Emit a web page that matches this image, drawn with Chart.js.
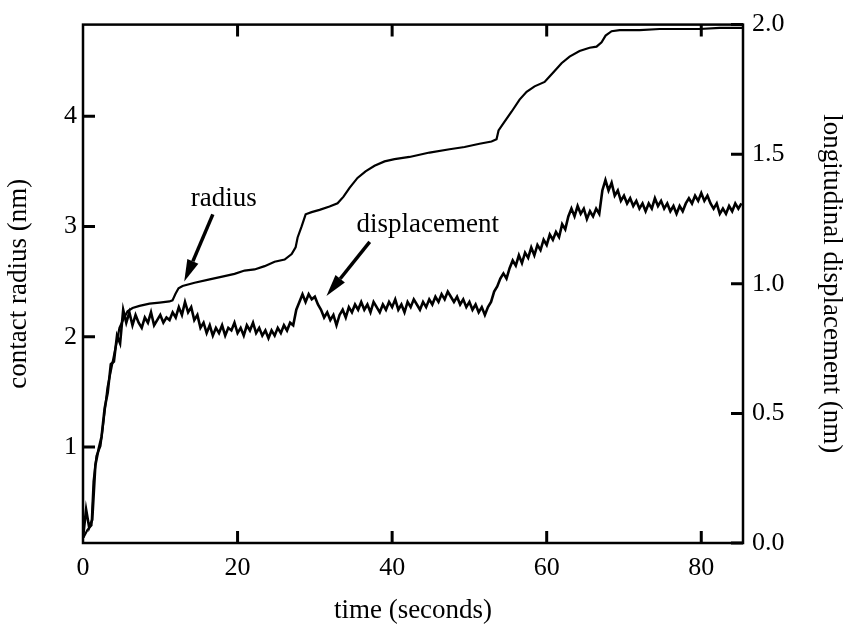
<!DOCTYPE html>
<html><head><meta charset="utf-8">
<script src="https://cdn.jsdelivr.net/npm/chart.js@4.4.1/dist/chart.umd.min.js"></script>
<style>html,body{margin:0;padding:0;background:#fff;}canvas{display:block;}</style>
</head><body>
<canvas id="c" width="845" height="625"></canvas>
<script>
// ---- data ----
const radiusTime = [0.06,0.58,1.10,1.36,1.75,2.26,2.65,3.17,3.69,4.21,4.72,5.24,5.76,6.41,7.31,8.61,9.90,11.19,11.58,11.97,12.36,12.88,14.44,16.39,18.31,19.61,20.91,22.20,23.50,24.79,26.09,27.00,27.51,27.77,28.29,28.81,29.58,30.61,31.90,32.94,33.71,34.49,35.52,36.56,37.72,39.02,40.31,42.25,44.84,47.43,49.37,51.31,52.86,53.51,53.77,54.55,55.45,56.49,57.40,58.43,59.73,60.37,61.02,61.92,62.96,64.25,65.55,66.45,67.10,67.62,68.40,69.43,72.02,74.61,77.20,79.79,82.38,85.35];
const radiusValues = [0.18,0.25,0.29,0.69,0.92,1.01,1.23,1.54,1.72,1.90,2.08,2.16,2.23,2.26,2.28,2.30,2.31,2.32,2.33,2.39,2.44,2.46,2.49,2.52,2.55,2.57,2.60,2.61,2.64,2.68,2.70,2.75,2.81,2.90,3.00,3.11,3.13,3.15,3.18,3.21,3.27,3.35,3.44,3.50,3.55,3.59,3.61,3.63,3.67,3.70,3.72,3.75,3.77,3.79,3.87,3.95,4.04,4.15,4.22,4.27,4.31,4.36,4.41,4.48,4.54,4.59,4.62,4.63,4.67,4.73,4.77,4.78,4.78,4.79,4.79,4.79,4.80,4.80];

const dispTime = [
0,0.4,0.8,1.2,1.6,2.0,2.4,2.8,3.2,3.6,
4.0,4.4,4.8,5.2,5.6,6.0,6.4,6.8,7.2,7.6,
8.0,8.4,8.8,9.2,9.6,10.0,10.4,10.8,11.2,11.6,
12.0,12.4,12.8,13.2,13.6,14.0,14.4,14.8,15.2,15.6,
16.0,16.4,16.8,17.2,17.6,18.0,18.4,18.8,19.2,19.6,
20.0,20.4,20.8,21.2,21.6,22.0,22.4,22.8,23.2,23.6,
24.0,24.4,24.8,25.2,25.6,26.0,26.4,26.8,27.2,27.6,
28.0,28.4,28.8,29.2,29.6,30.0,30.4,30.8,31.2,31.6,
32.0,32.4,32.8,33.2,33.6,34.0,34.4,34.8,35.2,35.6,
36.0,36.4,36.8,37.2,37.6,38.0,38.4,38.8,39.2,39.6,
40.0,40.4,40.8,41.2,41.6,42.0,42.4,42.8,43.2,43.6,
44.0,44.4,44.8,45.2,45.6,46.0,46.4,46.8,47.2,47.6,
48.0,48.4,48.8,49.2,49.6,50.0,50.4,50.8,51.2,51.6,
52.0,52.4,52.8,53.2,53.6,54.0,54.4,54.8,55.2,55.6,
56.0,56.4,56.8,57.2,57.6,58.0,58.4,58.8,59.2,59.6,
60.0,60.4,60.8,61.2,61.6,62.0,62.4,62.8,63.2,63.6,
64.0,64.4,64.8,65.2,65.6,66.0,66.4,66.8,67.2,67.6,
68.0,68.4,68.8,69.2,69.6,70.0,70.4,70.8,71.2,71.6,
72.0,72.4,72.8,73.2,73.6,74.0,74.4,74.8,75.2,75.6,
76.0,76.4,76.8,77.2,77.6,78.0,78.4,78.8,79.2,79.6,
80.0,80.4,80.8,81.2,81.6,82.0,82.4,82.8,83.2,83.6,
84.0,84.4,84.8,85.2];
const dispValues = [
0.02,0.13,0.06,0.09,0.30,0.36,0.41,0.52,0.58,0.69,
0.70,0.80,0.77,0.90,0.85,0.89,0.84,0.88,0.85,0.83,
0.87,0.85,0.89,0.84,0.86,0.88,0.85,0.87,0.86,0.89,
0.87,0.91,0.88,0.93,0.89,0.91,0.86,0.88,0.83,0.85,
0.81,0.84,0.80,0.83,0.81,0.84,0.80,0.83,0.82,0.85,
0.81,0.83,0.80,0.84,0.82,0.85,0.81,0.83,0.80,0.82,
0.79,0.82,0.80,0.83,0.81,0.84,0.82,0.85,0.84,0.90,
0.93,0.96,0.93,0.96,0.94,0.95,0.92,0.90,0.87,0.89,
0.86,0.88,0.84,0.88,0.90,0.87,0.91,0.89,0.92,0.90,
0.93,0.90,0.92,0.89,0.93,0.91,0.89,0.92,0.90,0.93,
0.91,0.94,0.90,0.92,0.89,0.93,0.91,0.94,0.92,0.90,
0.93,0.91,0.94,0.92,0.95,0.93,0.96,0.94,0.97,0.95,
0.93,0.95,0.92,0.94,0.91,0.93,0.90,0.92,0.89,0.91,
0.88,0.91,0.93,0.97,0.99,1.02,1.04,1.02,1.06,1.09,
1.07,1.11,1.08,1.12,1.10,1.14,1.11,1.15,1.13,1.17,
1.15,1.19,1.17,1.20,1.18,1.23,1.21,1.26,1.29,1.26,
1.30,1.27,1.29,1.25,1.28,1.26,1.29,1.27,1.36,1.40,
1.36,1.39,1.34,1.36,1.32,1.34,1.31,1.33,1.30,1.32,
1.29,1.31,1.28,1.31,1.29,1.33,1.30,1.32,1.29,1.31,
1.28,1.30,1.27,1.30,1.28,1.31,1.33,1.31,1.34,1.32,
1.35,1.32,1.34,1.31,1.29,1.31,1.27,1.29,1.27,1.30,
1.28,1.31,1.29,1.31];

const xTicks = [0, 20, 40, 60, 80];
const leftTicks = [1, 2, 3, 4];
const rightTicks = [0, 0.5, 1.0, 1.5, 2.0];

// annotation labels (text + arrow), placed in data units of x / left axis
const noteTexts = ['radius', 'displacement'];
const notePlacement = [
  {text: [18.2, 3.25], from: [16.8, 3.11], to: [13.1, 2.50]},
  {text: [44.6, 3.01], from: [37.1, 2.86], to: [31.5, 2.37]}
];

// ---- chart ----
const FONT = '"Liberation Serif", "Times New Roman", serif';
Chart.defaults.font.family = FONT;
Chart.defaults.color = '#000';

const framePlugin = {
  id: 'frame',
  afterDatasetsDraw(chart) {
    const {ctx, chartArea: a, scales} = chart;
    ctx.save();
    ctx.strokeStyle = '#000';
    ctx.lineWidth = 2.5;
    ctx.strokeRect(a.left, a.top, a.right - a.left, a.bottom - a.top);
    const L = 12;
    ctx.lineWidth = 3;
    ctx.beginPath();
    xTicks.forEach(v => {
      if (v === 0) return;
      const p = scales.x.getPixelForValue(v);
      ctx.moveTo(p, a.bottom); ctx.lineTo(p, a.bottom - L);
      ctx.moveTo(p, a.top); ctx.lineTo(p, a.top + L);
    });
    leftTicks.forEach(v => {
      const p = scales.y.getPixelForValue(v);
      ctx.moveTo(a.left, p); ctx.lineTo(a.left + L, p);
    });
    rightTicks.forEach(v => {
      const p = scales.y1.getPixelForValue(v);
      ctx.moveTo(a.right, p); ctx.lineTo(a.right - L, p);
    });
    ctx.stroke();

    // annotations
    ctx.fillStyle = '#000';
    ctx.font = '27px ' + FONT;
    ctx.textAlign = 'center';
    ctx.textBaseline = 'middle';
    notePlacement.forEach((n, i) => {
      const tx = scales.x.getPixelForValue(n.text[0]);
      const ty = scales.y.getPixelForValue(n.text[1]);
      ctx.fillText(noteTexts[i], tx, ty);
      const x0 = scales.x.getPixelForValue(n.from[0]);
      const y0 = scales.y.getPixelForValue(n.from[1]);
      const x1 = scales.x.getPixelForValue(n.to[0]);
      const y1 = scales.y.getPixelForValue(n.to[1]);
      const ang = Math.atan2(y1 - y0, x1 - x0);
      const head = 22, hw = 6;
      const bx = x1 - head * Math.cos(ang), by = y1 - head * Math.sin(ang);
      ctx.lineWidth = 3.5;
      ctx.beginPath();
      ctx.moveTo(x0, y0); ctx.lineTo(bx, by);
      ctx.stroke();
      ctx.beginPath();
      ctx.moveTo(x1, y1);
      ctx.lineTo(bx + hw * Math.sin(ang), by - hw * Math.cos(ang));
      ctx.lineTo(bx - hw * Math.sin(ang), by + hw * Math.cos(ang));
      ctx.closePath();
      ctx.fill();
    });
    ctx.restore();
  }
};

const radiusData = radiusTime.map((t, i) => ({x: t, y: radiusValues[i]}));
const dispData = dispTime.map((t, i) => ({x: t, y: dispValues[i]}));

const tickFont = {family: FONT, size: 26};
const titleFont = {family: FONT, size: 27};

new Chart(document.getElementById('c'), {
  type: 'line',
  data: {
    datasets: [
      {label: 'radius', data: radiusData, yAxisID: 'y', borderColor: '#000', borderWidth: 2.2, pointRadius: 0, tension: 0, fill: false},
      {label: 'displacement', data: dispData, yAxisID: 'y1', borderColor: '#000', borderWidth: 2.6, pointRadius: 0, tension: 0, fill: false}
    ]
  },
  options: {
    responsive: false,
    animation: false,
    devicePixelRatio: 1,
    layout: {padding: {top: 17, left: 0, right: 0, bottom: 0}},
    plugins: {legend: {display: false}, tooltip: {enabled: false}},
    scales: {
      x: {
        type: 'linear', position: 'bottom', min: 0, max: 85.4,
        grid: {display: false, drawTicks: false},
        border: {display: false},
        afterBuildTicks: s => { s.ticks = xTicks.map(v => ({value: v})); },
        afterFit: s => { s.height = 82; },
        ticks: {font: tickFont, color: '#000', padding: 10, maxRotation: 0, autoSkip: false},
        title: {display: true, text: 'time (seconds)', font: titleFont, color: '#000', padding: {top: 0, bottom: -2}}
      },
      y: {
        type: 'linear', position: 'left', min: 0.13, max: 4.83,
        grid: {display: false, drawTicks: false},
        border: {display: false},
        afterBuildTicks: s => { s.ticks = leftTicks.map(v => ({value: v})); },
        afterFit: s => { s.width = 83; },
        ticks: {font: tickFont, color: '#000', padding: 6},
        title: {display: true, text: 'contact radius (nm)', font: titleFont, color: '#000', padding: {top: 3, bottom: 0}}
      },
      y1: {
        type: 'linear', position: 'right', min: 0, max: 2.0,
        grid: {display: false, drawTicks: false},
        border: {display: false},
        afterBuildTicks: s => { s.ticks = rightTicks.map(v => ({value: v})); },
        afterFit: s => { s.width = 102; },
        ticks: {font: tickFont, color: '#000', padding: 9, callback: v => Number(v).toFixed(1)},
        title: {display: true, text: 'longitudinal displacement (nm)', font: titleFont, color: '#000', padding: {top: -2, bottom: 0}}
      }
    }
  },
  plugins: [framePlugin]
});
</script>
</body></html>
